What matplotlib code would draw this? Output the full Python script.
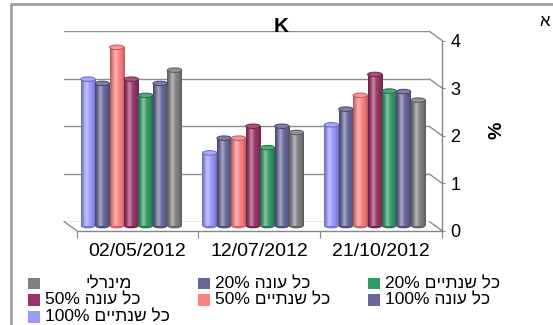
import re
import numpy as np
import matplotlib
matplotlib.use("Agg")
import matplotlib.pyplot as plt
from matplotlib.patches import Ellipse, Rectangle, ConnectionPatch
from matplotlib.lines import Line2D
from matplotlib.colors import to_rgb

plt.rcParams['font.family'] = ['Liberation Sans', 'DejaVu Sans']

# ---- data -------------------------------------------------------------
dates = ["02/05/2012", "12/07/2012", "21/10/2012"]
y_ticks = [0, 1, 2, 3, 4]

# series in bar order inside each date group
series_names = ["כל שנתיים 100%", "כל עונה 100%", "כל שנתיים 50%",
                "כל עונה 50%", "כל שנתיים 20%", "כל עונה 20%", "מינרלי"]
every2y_100 = [3.09, 1.54, 2.13]
season_100 = [3.00, 1.85, 2.46]
every2y_50 = [3.76, 1.85, 2.75]
season_50 = [3.09, 2.10, 3.19]
every2y_20 = [2.75, 1.65, 2.84]
season_20 = [3.00, 2.10, 2.83]
mineral = [3.28, 1.97, 2.65]
series_values = [every2y_100, season_100, every2y_50, season_50,
                 every2y_20, season_20, mineral]
series_colors = ["#9999FF", "#666699", "#FF8080", "#993366",
                 "#339966", "#666699", "#808080"]

# ---- layout helpers ---------------------------------------------------
W, H = 553, 325
fig = plt.figure(figsize=(W / 100, H / 100), dpi=100)
fig.patch.set_facecolor("white")


def fx(px):
    return px / W


def fy(py):
    return 1 - py / H


def layer(x0, x1, y_top, y_bot, z):
    ax = fig.add_axes([fx(x0), fy(y_bot), (x1 - x0) / W, (y_bot - y_top) / H])
    ax.set_xlim(0, len(dates))
    ax.set_ylim(y_ticks[0], y_ticks[-1])
    ax.set_zorder(z)
    ax.patch.set_alpha(0)
    return ax


def visual(s):
    """Reorder a right-to-left label for left-to-right glyph drawing."""
    r = s[::-1]
    return re.sub(r"[0-9A-Za-z%.,/]+", lambda m: m.group()[::-1], r)


grid_col = "#8C8C8C"
axis_col = "#868686"

# front plane and depth offset (pixels)
FX0, FX1, FY_TOP, FY_BOT = 76.7, 442.0, 40.5, 230.7
DX, DY = 12.7, 9.2

ax_back = layer(FX0 - DX, FX1 - DX, FY_TOP - DY, FY_BOT - DY, 0)
ax_mid = layer(FX0 - DX / 2, FX1 - DX / 2, FY_TOP - DY / 2, FY_BOT - DY / 2, 1)
ax_front = layer(FX0, FX1, FY_TOP, FY_BOT, 2)

# back wall gridlines
ax_back.axis("off")
for v in y_ticks:
    ax_back.axhline(v, color=grid_col, lw=1.0)

# depth connectors: right side of each gridline and left floor edge
for v in y_ticks:
    con = ConnectionPatch(xyA=(len(dates), v), xyB=(len(dates), v),
                          coordsA="data", coordsB="data",
                          axesA=ax_back, axesB=ax_front,
                          color=grid_col, lw=1.0)
    fig.add_artist(con)
con = ConnectionPatch(xyA=(0, 0), xyB=(0, 0), coordsA="data", coordsB="data",
                      axesA=ax_back, axesB=ax_front, color=grid_col, lw=1.0)
fig.add_artist(con)

# ---- cylinder bars -----------------------------------------------------
ax_mid.axis("off")
n_series = len(series_names)
side_gap = 0.085
bar_w = (1 - 2 * side_gap) / n_series
mid_px_h = (FY_BOT - FY_TOP)
cap_h = 4.5 * (y_ticks[-1] - y_ticks[0]) / mid_px_h


def shade(rgb, n=48):
    t = np.linspace(0, 1, n)
    hi = 0.40 * np.exp(-((t - 0.36) / 0.16) ** 2)
    lo = 0.30 * np.abs(2 * t - 1) ** 2.5
    base = np.array(rgb)
    col = base[None, :] * (1 - hi[:, None]) + hi[:, None]
    col = col * (1 - lo[:, None])
    return np.clip(col[None, :, :], 0, 1)


x_groups = np.arange(len(dates))
for j, (vals, c) in enumerate(zip(series_values, series_colors)):
    rgb = np.array(to_rgb(c))
    xc = x_groups + side_gap + (j + 0.5) * bar_w
    bars = ax_mid.bar(xc, vals, width=bar_w, color=c, lw=0, zorder=2)
    for rect, xcen, v in zip(bars.patches, xc, vals):
        x0 = rect.get_x()
        im = ax_mid.imshow(shade(rgb), extent=(x0, x0 + bar_w, 0, v),
                           aspect="auto", interpolation="bilinear", zorder=2.1)
        im.set_clip_path(rect)
        ax_mid.add_patch(Ellipse((xcen, 0), bar_w, cap_h,
                                 facecolor=rgb * 0.78, lw=0, zorder=1.9,
                                 clip_on=False))
        ax_mid.add_patch(Ellipse((xcen, v), bar_w, cap_h,
                                 facecolor=rgb * 0.85 + 0.15,
                                 edgecolor=rgb * 0.7, lw=0.7, zorder=3,
                                 clip_on=False))
ax_mid.set_xlim(0, len(dates))
ax_mid.set_ylim(y_ticks[0], y_ticks[-1])

# ---- front axis ----------------------------------------------------------
for s in ["left", "top"]:
    ax_front.spines[s].set_visible(False)
for s in ["right", "bottom"]:
    ax_front.spines[s].set_color(axis_col)
    ax_front.spines[s].set_linewidth(1.0)
ax_front.yaxis.tick_right()
ax_front.set_yticks(y_ticks)
ax_front.set_yticklabels([str(v) for v in y_ticks], fontsize=13)
ax_front.tick_params(axis="y", length=2, color=axis_col, pad=4)
ax_front.set_xticks(np.arange(len(dates) + 1))
ax_front.set_xticklabels([])
ax_front.tick_params(axis="x", which="major", length=5, color=axis_col,
                     direction="out")
ax_front.set_xticks(x_groups + 0.5, minor=True)
ax_front.set_xticklabels(dates, minor=True, fontsize=14)
ax_front.tick_params(axis="x", which="minor", length=0, pad=9)

# ---- texts -------------------------------------------------------------------
fig.text(fx(281), fy(26), "K", fontsize=15, fontweight="bold",
         ha="center", va="center", zorder=5)
fig.text(fx(545), fy(22), "א", fontsize=12, ha="center", va="center")
fig.text(fx(497), fy(130), "%", fontsize=14, fontweight="bold",
         rotation=90, ha="center", va="center")

# ---- legend (three columns, right-to-left series order) ----------------------
sq = 11.7
for k, idx in enumerate(range(n_series - 1, -1, -1)):
    r, col = divmod(k, 3)
    sx = 28 + 170 * col
    cy = 283.5 + 16.7 * r
    fig.add_artist(Rectangle((fx(sx), fy(cy + sq / 2)), sq / W, sq / H,
                             transform=fig.transFigure,
                             facecolor=series_colors[idx], lw=0))
    name = series_names[idx]
    if re.search(r"\d", name):
        fig.text(fx(sx + 17), fy(cy), visual(name), fontsize=12.5,
                 ha="left", va="center")
    else:
        fig.text(fx(sx + 104), fy(cy), visual(name), fontsize=12.5,
                 ha="right", va="center")

# chart border
fig.add_artist(Line2D([fx(11), fx(11), 1.0], [0, fy(4), fy(4)],
                      transform=fig.transFigure, color="#A0A0A0", lw=2))

fig.savefig("out.png", dpi=100)
